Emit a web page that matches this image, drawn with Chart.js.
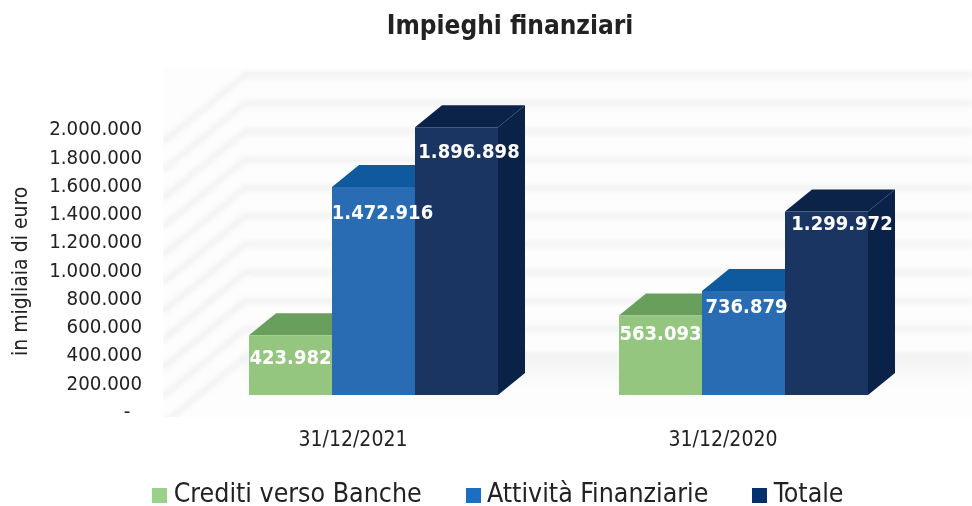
<!DOCTYPE html>
<html>
<head>
<meta charset="utf-8">
<style>html,body{margin:0;padding:0;background:#fff}#w{position:relative;width:972px;height:506px}</style>
<script src="https://cdn.jsdelivr.net/npm/chart.js@4/dist/chart.umd.min.js"></script>
</head>
<body>
<div id="w"><canvas id="c" width="972" height="506"></canvas></div>
<script>
const categories = ['31/12/2021', '31/12/2020'];
const creditiVersoBanche = [423982, 563093];
const attivitaFinanziarie = [1472916, 736879];
const totale = [1896898, 1299972];
const seriesNames = ['Crediti verso Banche', 'Attività Finanziarie', 'Totale'];
const wallGridValues = [0, 200000, 400000, 600000, 800000, 1000000, 1200000, 1400000, 1600000, 1800000, 2000000, 2200000];

const fontFamily = '"DejaVu Sans Condensed", "DejaVu Sans", sans-serif';
const frontColors = ['#94c680', '#2a6cb3', '#1b3563'];
const topColors = ['#689f5c', '#0f5a9f', '#0c2349'];
const sideColor = '#0b2248';
const legendColors = ['#97d18a', '#1a6fc4', '#04316b'];
const depth = {x: 27, y: 22};
const barShift = {x: 20.5, y: -17.5};
// per bar nudges of the value labels, relative to the bar's top centre
const labelNudgeX = [[0, 9, 12.5], [0, 3, 15.5]];
const labelNudgeY = [[24, 27, 26], [19, 17, 13]];

function swatch(color) {
  const s = document.createElement('canvas');
  s.width = 15; s.height = 15;
  const g = s.getContext('2d');
  g.fillStyle = color; g.fillRect(0, 0, 15, 15);
  return s;
}

const wallPlugin = {
  id: 'wall',
  afterLayout(chart) {
    const t = chart.titleBlock, l = chart.legend;
    t.left = 48; t.right = 972;
    l.left = 31; l.right = 972;
    l.top = 495 - 51 - 13; l.bottom = 506;
  },
  beforeDatasetsDraw(chart) {
    const {ctx, scales: {x, y}} = chart;
    const backL = 245, backR = 972, sideL = 163, top = 68, bottom = 417;
    const gridDy = -27, sideDy = 67;
    ctx.save();
    ctx.fillStyle = '#fdfdfd';
    ctx.fillRect(sideL, top, backR - sideL, bottom - top);
    ctx.beginPath();
    ctx.rect(sideL, top, backR - sideL, bottom - top);
    ctx.clip();
    ctx.filter = 'blur(2px)';
    ctx.strokeStyle = '#f3f2f2';
    ctx.lineWidth = 6;
    wallGridValues.forEach(v => {
      const py = y.getPixelForValue(v) + gridDy;
      if (v > 0) {
        ctx.beginPath();
        ctx.moveTo(sideL, py + sideDy);
        ctx.lineTo(backL, py);
        ctx.lineTo(backR, py);
        ctx.stroke();
      }
    });
    const grad = ctx.createLinearGradient(0, y.getPixelForValue(0) + gridDy - 32, 0, y.getPixelForValue(0) + gridDy);
    grad.addColorStop(0, '#f2f2f2');
    grad.addColorStop(1, '#fcfcfc');
    ctx.fillStyle = grad;
    ctx.fillRect(backL, y.getPixelForValue(0) + gridDy - 32, backR - backL, 32);
    ctx.restore();

    ctx.save();
    ctx.translate(barShift.x, barShift.y);
    chart.data.datasets.forEach((ds, i) => {
      const meta = chart.getDatasetMeta(i);
      meta.data.forEach(bar => {
        const L = bar.x - bar.width / 2, R = bar.x + bar.width / 2, T = bar.y, B = bar.base;
        ctx.fillStyle = sideColor;
        ctx.beginPath();
        ctx.moveTo(R, T); ctx.lineTo(R + depth.x, T - depth.y);
        ctx.lineTo(R + depth.x, B - depth.y); ctx.lineTo(R, B);
        ctx.closePath(); ctx.fill();
        ctx.fillStyle = topColors[i];
        ctx.beginPath();
        ctx.moveTo(L, T); ctx.lineTo(L + depth.x, T - depth.y);
        ctx.lineTo(R + depth.x, T - depth.y); ctx.lineTo(R, T);
        ctx.closePath(); ctx.fill();
      });
      meta.controller.draw();
    });
    ctx.fillStyle = '#ffffff';
    ctx.font = 'bold 20px ' + fontFamily;
    ctx.textAlign = 'center';
    ctx.textBaseline = 'middle';
    chart.data.datasets.forEach((ds, i) => {
      chart.getDatasetMeta(i).data.forEach((bar, j) => {
        ctx.fillText(fmt(ds.data[j]), bar.x + labelNudgeX[j][i], bar.y + labelNudgeY[j][i]);
      });
    });
    ctx.restore();
    return false;
  }
};

function fmt(v) {
  return v === 0 ? '-\u00a0\u00a0' : String(v).replace(/\B(?=(\d{3})+(?!\d))/g, '.');
}

new Chart(document.getElementById('c'), {
  type: 'bar',
  data: {
    labels: categories,
    datasets: [
      {label: seriesNames[0], data: creditiVersoBanche, backgroundColor: frontColors[0]},
      {label: seriesNames[1], data: attivitaFinanziarie, backgroundColor: frontColors[1]},
      {label: seriesNames[2], data: totale, backgroundColor: frontColors[2]}
    ]
  },
  options: {
    responsive: false,
    animation: false,
    events: [],
    categoryPercentage: 0.673,
    barPercentage: 1,
    layout: {padding: {left: 0, right: 64, top: 0, bottom: 0}},
    plugins: {
      title: {
        display: true,
        text: 'Impieghi finanziari',
        color: '#222222',
        font: {family: fontFamily, size: 26, weight: 'bold', lineHeight: 1.2},
        padding: {top: 12, bottom: 87}
      },
      legend: {
        position: 'bottom',
        maxHeight: 30,
        labels: {
          color: '#222222',
          font: {family: fontFamily, size: 26.5},
          padding: 51,
          boxHeight: 15,
          usePointStyle: true,
          pointStyleWidth: 1,
          generateLabels(chart) {
            return Chart.defaults.plugins.legend.labels.generateLabels(chart).map((it, i) => {
              it.pointStyle = swatch(legendColors[i]);
              return it;
            });
          }
        }
      },
      tooltip: {enabled: false}
    },
    scales: {
      x: {
        grid: {display: false, drawTicks: false},
        border: {display: false},
        ticks: {color: '#222222', font: {family: fontFamily, size: 21}, padding: 15},
        afterFit(s) { s.height = 63.5; }
      },
      y: {
        min: 0,
        max: 2000000,
        grid: {display: false, drawTicks: false},
        border: {display: false},
        ticks: {
          stepSize: 200000,
          color: '#222222',
          font: {family: fontFamily, size: 20.3},
          padding: 26,
          callback: v => fmt(v)
        },
        title: {
          display: true,
          text: 'in migliaia di euro',
          color: '#222222',
          font: {family: fontFamily, size: 21},
          padding: {top: 9, bottom: 0}
        },
        afterFit(s) { s.width = 168; }
      }
    }
  },
  plugins: [wallPlugin]
});
</script>
</body>
</html>
